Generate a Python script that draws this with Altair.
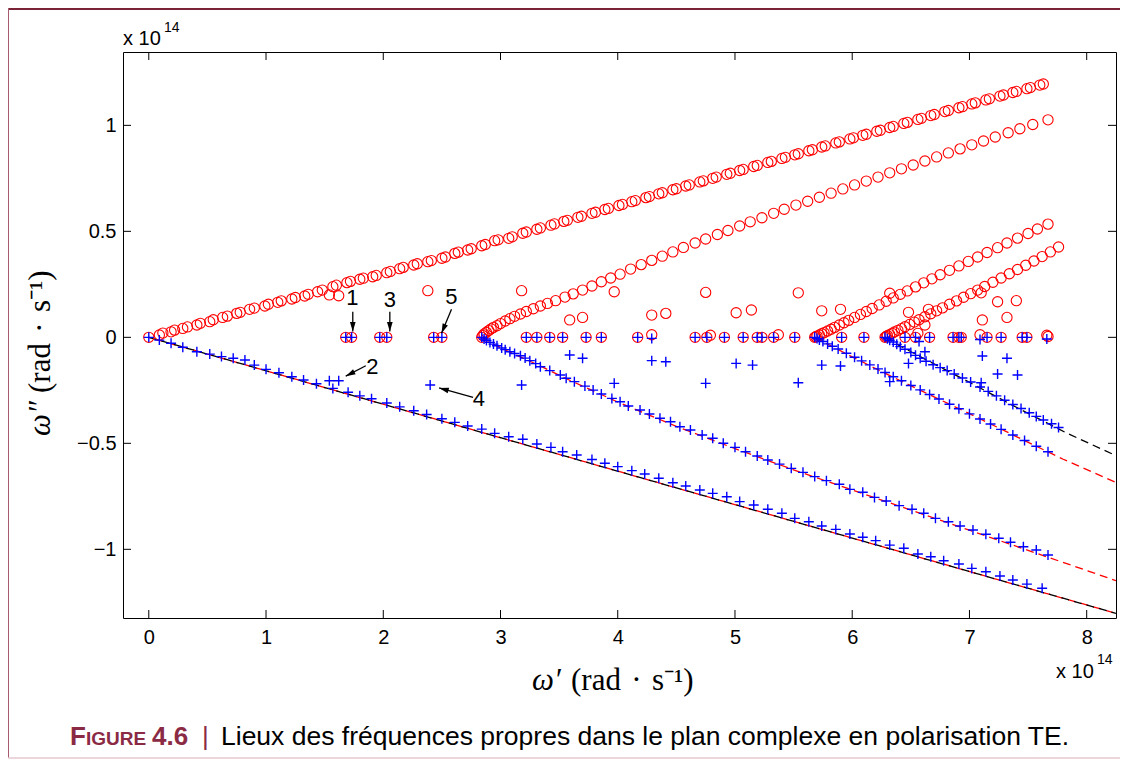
import math
import altair as alt
import pandas as pd

# ---------------- values (units of 1e14 rad/s) ----------------
# red circles, upper branch from the origin (two interleaved sequences)
redA_x = [0.00,0.09,0.19,0.29,0.41,0.52,0.63,0.75,0.86,0.99,1.10,1.22,1.33,1.44,1.57,1.69,1.80,1.91,2.03,2.14,
          2.26,2.38,2.50,2.61,2.72,2.84,2.95,3.07,3.19,3.31,3.43,3.54,3.66,3.78,3.89,4.01,4.12,4.24,4.35,4.47,
          4.58,4.70,4.81,4.93,5.04,5.16,5.28,5.40,5.51,5.63,5.74,5.86,5.98,6.09,6.21,6.32,6.44,6.56,6.67,6.79,
          6.91,7.02,7.14,7.26,7.37,7.49,7.60]
redA_y = [0.000,0.011,0.026,0.042,0.058,0.074,0.094,0.113,0.132,0.148,0.165,0.181,0.195,0.215,0.239,0.258,0.274,0.286,0.305,0.324,
          0.341,0.357,0.373,0.396,0.412,0.432,0.456,0.467,0.491,0.510,0.529,0.547,0.566,0.585,0.603,0.622,0.640,0.659,0.677,0.696,
          0.714,0.733,0.750,0.769,0.787,0.806,0.825,0.844,0.861,0.880,0.898,0.917,0.936,0.953,0.972,0.990,1.009,1.028,1.046,1.065,
          1.083,1.101,1.120,1.138,1.155,1.173,1.190]
redA2_x = [0.12,0.22,0.33,0.44,0.55,0.67,0.78,0.90,1.02,1.13,1.25,1.36,1.48,1.60,1.72,1.83,1.94,2.06,2.17,2.29,
           2.41,2.53,2.64,2.75,2.87,2.98,3.10,3.22,3.34,3.46,3.57,3.69,3.81,3.92,4.04,4.15,4.27,4.38,4.50,4.61,
           4.73,4.84,4.96,5.07,5.19,5.31,5.43,5.54,5.66,5.77,5.89,6.01,6.12,6.24,6.35,6.47,6.59,6.70,6.82,6.94,
           7.05,7.17,7.29,7.40,7.52,7.63]
redA2_y = [0.020,0.034,0.049,0.066,0.083,0.100,0.118,0.138,0.156,0.172,0.188,0.203,0.223,0.246,0.264,0.279,0.292,0.311,0.330,0.347,
           0.362,0.379,0.402,0.418,0.438,0.460,0.474,0.497,0.516,0.535,0.552,0.571,0.590,0.608,0.627,0.645,0.664,0.682,0.701,0.719,
           0.738,0.756,0.774,0.792,0.811,0.830,0.849,0.866,0.885,0.903,0.922,0.941,0.958,0.977,0.995,1.014,1.033,1.051,1.070,1.088,
           1.106,1.125,1.143,1.160,1.178,1.195]
# red circles, branch from the cusp near 2.84
redB_x = [2.84,2.85,2.86,2.88,2.90,2.92,2.94,2.97,3.00,3.04,3.08,3.12,3.17,3.22,3.28,3.34,3.40,3.47,3.55,3.62,
          3.70,3.78,3.86,3.94,4.02,4.11,4.20,4.29,4.38,4.47,4.56,4.66,4.75,4.85,4.94,5.04,5.13,5.23,5.33,5.42,
          5.52,5.62,5.72,5.82,5.92,6.02,6.12,6.22,6.32,6.42,6.52,6.62,6.72,6.82,6.92,7.02,7.12,7.22,7.33,7.43,
          7.54,7.67]
redB_y = [0.000,0.008,0.016,0.024,0.032,0.040,0.047,0.055,0.065,0.077,0.088,0.099,0.110,0.122,0.135,0.148,0.160,0.173,0.190,0.205,
          0.223,0.242,0.262,0.280,0.298,0.322,0.343,0.363,0.383,0.403,0.424,0.445,0.464,0.485,0.504,0.525,0.545,0.564,0.585,0.604,
          0.624,0.642,0.661,0.680,0.700,0.719,0.737,0.756,0.776,0.795,0.813,0.832,0.851,0.870,0.889,0.908,0.926,0.945,0.965,0.984,
          1.004,1.026]
# red circles, branch from the cusp near 5.68
redC_x = [5.68,5.69,5.70,5.72,5.74,5.76,5.79,5.82,5.85,5.89,5.93,5.97,6.02,6.07,6.12,6.17,6.23,6.29,6.35,6.41,
          6.47,6.54,6.61,6.68,6.75,6.83,6.91,6.99,7.07,7.15,7.24,7.32,7.41,7.50,7.58,7.67]
redC_y = [0.000,0.003,0.006,0.011,0.017,0.022,0.030,0.038,0.047,0.058,0.069,0.080,0.094,0.108,0.122,0.136,0.153,0.170,0.186,0.203,
          0.219,0.238,0.257,0.276,0.295,0.316,0.337,0.358,0.379,0.400,0.423,0.445,0.468,0.490,0.511,0.534]
# red circles, branch from the cusp near 6.28
redD_x = [6.28,6.29,6.30,6.32,6.34,6.36,6.39,6.42,6.45,6.49,6.53,6.57,6.62,6.67,6.72,6.77,6.83,6.89,6.95,7.01,
          7.07,7.13,7.20,7.27,7.34,7.41,7.48,7.55,7.62,7.69,7.76]
redD_y = [0.000,0.004,0.008,0.013,0.019,0.025,0.033,0.041,0.050,0.061,0.072,0.083,0.097,0.111,0.125,0.139,0.156,0.172,0.189,0.206,
          0.223,0.240,0.260,0.280,0.300,0.320,0.340,0.360,0.381,0.403,0.426]

# blue pluses, lower branch from the origin
blueA_x = [0.00,0.09,0.19,0.29,0.41,0.52,0.62,0.72,0.82,0.90,1.00,1.11,1.22,1.32,1.43,1.57,1.70,1.80,1.90,2.03,
           2.14,2.26,2.37,2.50,2.61,2.72,2.84,2.95,3.07,3.19,3.31,3.43,3.53,3.65,3.78,3.89,4.00,4.12,4.23,4.35,
           4.47,4.58,4.70,4.81,4.93,5.04,5.16,5.28,5.40,5.51,5.63,5.74,5.86,5.98,6.09,6.20,6.32,6.44,6.56,6.67,
           6.78,6.91,7.02,7.14,7.26,7.37,7.49,7.62]
blueA_y = [0.000,-0.013,-0.028,-0.047,-0.068,-0.079,-0.091,-0.099,-0.107,-0.131,-0.151,-0.167,-0.186,-0.201,-0.219,-0.241,-0.259,-0.276,-0.290,-0.310,
           -0.328,-0.346,-0.364,-0.384,-0.401,-0.418,-0.433,-0.453,-0.469,-0.481,-0.503,-0.519,-0.540,-0.555,-0.576,-0.594,-0.610,-0.629,-0.645,-0.665,
           -0.686,-0.701,-0.720,-0.736,-0.752,-0.775,-0.791,-0.811,-0.830,-0.854,-0.870,-0.890,-0.906,-0.928,-0.943,-0.959,-0.980,-0.995,-1.022,-1.035,
           -1.054,-1.069,-1.090,-1.106,-1.126,-1.145,-1.164,-1.184]
# blue pluses, branch from the cusp near 2.84
blueB_x = [2.84,2.86,2.88,2.91,2.94,2.97,3.01,3.04,3.08,3.12,3.17,3.21,3.25,3.30,3.34,3.42,3.51,3.56,3.63,3.72,
           3.79,3.86,3.95,4.02,4.09,4.19,4.27,4.36,4.45,4.53,4.62,4.72,4.81,4.90,5.00,5.09,5.19,5.28,5.38,5.48,
           5.58,5.68,5.78,5.89,5.98,6.09,6.19,6.29,6.40,6.51,6.61,6.71,6.82,6.92,7.03,7.14,7.25,7.35,7.46,7.57,
           7.67]
blueB_y = [0.000,-0.008,-0.015,-0.024,-0.032,-0.040,-0.050,-0.058,-0.068,-0.076,-0.087,-0.098,-0.110,-0.124,-0.139,-0.157,-0.178,-0.193,-0.209,-0.230,
           -0.249,-0.267,-0.288,-0.304,-0.324,-0.343,-0.362,-0.382,-0.398,-0.422,-0.437,-0.461,-0.476,-0.500,-0.519,-0.540,-0.560,-0.579,-0.598,-0.618,
           -0.637,-0.657,-0.676,-0.693,-0.717,-0.731,-0.755,-0.772,-0.794,-0.811,-0.830,-0.854,-0.870,-0.890,-0.909,-0.929,-0.948,-0.967,-0.988,-1.003,
           -1.027]
# blue pluses, branch from the cusp near 5.68
blueC_x = [5.68,5.70,5.72,5.75,5.79,5.83,5.88,5.95,6.02,6.08,6.15,6.22,6.28,6.35,6.42,6.50,6.58,6.66,6.74,6.83,
           6.91,7.00,7.09,7.18,7.27,7.37,7.47,7.57,7.67]
blueC_y = [0.000,-0.006,-0.012,-0.020,-0.031,-0.042,-0.055,-0.075,-0.094,-0.111,-0.130,-0.149,-0.166,-0.186,-0.205,-0.227,-0.248,-0.270,-0.291,-0.316,
           -0.337,-0.361,-0.385,-0.409,-0.434,-0.461,-0.487,-0.514,-0.540]
# blue pluses, branch from the cusp near 6.28
blueD_x = [6.28,6.30,6.32,6.35,6.38,6.41,6.45,6.50,6.54,6.58,6.63,6.69,6.75,6.81,6.87,6.94,7.01,7.09,7.16,7.23,
           7.30,7.37,7.44,7.51,7.57,7.63,7.70,7.76]
blueD_y = [0.000,-0.007,-0.014,-0.022,-0.033,-0.044,-0.056,-0.072,-0.085,-0.099,-0.113,-0.129,-0.143,-0.157,-0.173,-0.192,-0.211,-0.234,-0.255,-0.276,
           -0.297,-0.317,-0.336,-0.356,-0.373,-0.390,-0.408,-0.425]

# modes lying on the real axis (circles with pluses)
axis_red_x = [1.68,1.73,1.97,2.03,2.43,2.50,3.22,3.31,3.42,3.53,3.73,3.86,4.17,4.29,4.66,4.76,4.79,4.91,5.07,5.19,
              5.23,5.33,5.37,5.51,5.91,6.10,6.45,6.54,6.66,6.86,6.91,6.93,7.09,7.15,7.27,7.45,7.49,7.66,7.67]
axis_red_y = [0,0,0,0,0,0,0,0,0,0,0,0,0,0.012,0,0,0.010,0,0,0,
              0,0,0.012,0,0,0,0,0,0,0,0,0,0.012,0,0,0,0,0.010,0.004]
axis_blue_x = [1.68,1.73,1.97,2.03,2.43,2.50,3.22,3.31,3.42,3.53,3.73,3.86,4.17,4.29,4.66,4.76,4.91,5.07,5.19,5.23,
               5.33,5.51,5.91,6.10,6.45,6.54,6.66,6.86,6.91,6.93,7.09,7.15,7.27,7.45,7.49,7.66]
axis_blue_y = [0,0,0,0,0,0,0,0,0,0,0,0,0,-0.005,0,0,0,0,0,0,
               0,0,0,0,0,0,0,0,0,0,-0.010,0,0,0,0,-0.008]

# isolated modes off the branches
red_off_x = [1.54,1.62,2.38,3.18,3.97,3.59,3.70,4.29,4.41,4.75,5.01,5.14,5.54,5.74,5.90,6.32,6.48,6.65,6.62,6.56,
             7.10,7.24,7.40,7.32,7.11]
red_off_y = [0.200,0.196,0.220,0.220,0.215,0.082,0.094,0.105,0.113,0.212,0.116,0.129,0.210,0.125,0.132,0.208,0.118,0.132,0.058,0.019,
             0.210,0.168,0.173,0.094,0.082]
blue_off_x = [1.54,1.62,2.40,3.18,3.97,3.59,3.70,4.29,4.41,4.75,5.01,5.15,5.54,5.74,5.90,6.32,6.48,6.62,6.57,7.10,
              7.24,7.32,7.41,7.11]
blue_off_y = [-0.205,-0.205,-0.225,-0.225,-0.217,-0.083,-0.099,-0.110,-0.115,-0.217,-0.123,-0.131,-0.214,-0.131,-0.135,-0.209,-0.123,-0.068,-0.020,-0.214,
              -0.173,-0.099,-0.178,-0.088]

# dashed reference curves
dash0_x = [0.0, 8.25]
dash0_y = [0.0, -1.302]
dashB_x = [2.84,2.95,3.10,3.30,3.60,4.00,4.50,5.00,5.50,6.00,6.50,7.00,7.50,8.00,8.25]
dashB_y = [0.0,-0.035,-0.075,-0.125,-0.205,-0.305,-0.420,-0.525,-0.625,-0.720,-0.815,-0.910,-1.005,-1.100,-1.148]
dashC_x = [5.68,5.80,6.00,6.30,6.60,7.00,7.40,7.80,8.25]
dashC_y = [0.0,-0.035,-0.092,-0.175,-0.255,-0.360,-0.468,-0.575,-0.685]
dashD_x = [6.28,6.40,6.60,7.00,7.40,7.83,8.25]
dashD_y = [0.0,-0.038,-0.097,-0.212,-0.330,-0.452,-0.558]

# numbered annotations and their arrows
ann_text = ["1", "3", "5", "2", "4"]
ann_x = [1.737, 2.056, 2.582, 1.908, 2.815]
ann_y = [0.185, 0.176, 0.192, -0.139, -0.289]
arr_x1 = [1.740, 2.056, 2.582, 1.851, 2.766]
arr_y1 = [0.121, 0.121, 0.132, -0.134, -0.283]
arr_x2 = [1.740, 2.056, 2.497, 1.680, 2.476]
arr_y2 = [0.027, 0.027, 0.019, -0.183, -0.239]

x_ticks = [0, 1, 2, 3, 4, 5, 6, 7, 8]
y_ticks = [-1, -0.5, 0, 0.5, 1]

caption_head = ["F", "IGURE", "4.6", "|"]
caption_body = "Lieux des fréquences propres dans le plan complexe en polarisation TE."

# ---------------- layout ----------------
W, H = 993, 566
X_DOM = [-0.22, 8.25]
Y_DOM = [-1.324, 1.346]
xsc = alt.Scale(domain=X_DOM, nice=False, zero=False)
ysc = alt.Scale(domain=Y_DOM, nice=False, zero=False)
xaxis = alt.Axis(values=x_ticks, format="d", ticks=False, tickSize=0, domain=False, grid=False,
                 labelFont="Liberation Sans", labelFontSize=20, labelColor="black",
                 labelPadding=9, title=None, labelFlush=False)
yaxis = alt.Axis(values=y_ticks, format=".1~f", ticks=False, tickSize=0, domain=False, grid=False,
                 labelFont="Liberation Sans", labelFontSize=20, labelColor="black",
                 labelPadding=7, title=None, labelFlush=False)


def X(f="x"):
    return alt.X(f"{f}:Q", scale=xsc, axis=xaxis)


def Y(f="y"):
    return alt.Y(f"{f}:Q", scale=ysc, axis=yaxis)


def pts(xv, yv):
    n = min(len(xv), len(yv))
    return pd.DataFrame({"x": list(xv[:n]), "y": list(yv[:n])})


red_df = pd.concat([pts(redA_x, redA_y), pts(redA2_x, redA2_y), pts(redB_x, redB_y),
                    pts(redC_x, redC_y), pts(redD_x, redD_y), pts(axis_red_x, axis_red_y),
                    pts(red_off_x, red_off_y)], ignore_index=True)
blue_df = pd.concat([pts(blueA_x, blueA_y), pts(blueB_x, blueB_y), pts(blueC_x, blueC_y),
                     pts(blueD_x, blueD_y), pts(axis_blue_x, axis_blue_y),
                     pts(blue_off_x, blue_off_y)], ignore_index=True)


def curves(items):
    frames = []
    for name, xv, yv in items:
        d = pts(xv, yv)
        d["id"] = name
        d["o"] = range(len(d))
        frames.append(d)
    return pd.concat(frames, ignore_index=True)


red_curves = curves([("B", dashB_x, dashB_y), ("C", dashC_x, dashC_y)])
red_origin = curves([("O", dash0_x, dash0_y)])
black_curves = curves([("O", dash0_x, dash0_y), ("D", dashD_x, dashD_y)])

kx = W / (X_DOM[1] - X_DOM[0])
ky = H / (Y_DOM[1] - Y_DOM[0])
angles = []
for a, b, c, d in zip(arr_x1, arr_y1, arr_x2, arr_y2):
    dx = (c - a) * kx
    dy = -(d - b) * ky
    angles.append(math.degrees(math.atan2(dx, -dy)) % 360)
arr_df = pd.DataFrame({"x1": arr_x1, "y1": arr_y1, "x2": arr_x2, "y2": arr_y2, "ang": angles})
ann_df = pd.DataFrame({"x": ann_x, "y": ann_y, "t": ann_text})

layers = []
layers.append(alt.Chart(red_origin).mark_line(color="#ff0000", strokeWidth=1.3, strokeDash=[8, 5],
                                              strokeDashOffset=6, clip=True)
              .encode(x=X(), y=Y(), detail="id:N", order="o:Q"))
layers.append(alt.Chart(red_curves).mark_line(color="#ff0000", strokeWidth=1.3, strokeDash=[8, 5], clip=True)
              .encode(x=X(), y=Y(), detail="id:N", order="o:Q"))
layers.append(alt.Chart(black_curves).mark_line(color="black", strokeWidth=1.3, strokeDash=[8, 5], clip=True)
              .encode(x=X(), y=Y(), detail="id:N", order="o:Q"))
layers.append(alt.Chart(red_df).mark_point(shape="circle", filled=False, color="#ff0000", size=105,
                                           strokeWidth=1.1, opacity=1)
              .encode(x=X(), y=Y()))
layers.append(alt.Chart(blue_df).mark_point(shape="M-1,0L1,0M0,-1L0,1", filled=False, color="#0000ff",
                                            size=100, strokeWidth=1.4, opacity=1)
              .encode(x=X(), y=Y()))
layers.append(alt.Chart(arr_df).mark_rule(color="black", strokeWidth=1.3)
              .encode(x=X("x1"), y=Y("y1"), x2="x2:Q", y2="y2:Q"))
layers.append(alt.Chart(arr_df).mark_point(shape="M0,0L0.5,1.7L-0.5,1.7Z", filled=True, color="black",
                                           size=130, opacity=1, strokeWidth=0)
              .encode(x=X("x2"), y=Y("y2"), angle=alt.Angle("ang:Q", scale=None)))
layers.append(alt.Chart(ann_df).mark_text(font="Liberation Sans", fontSize=22, color="black",
                                          align="center", baseline="middle")
              .encode(x=X(), y=Y(), text="t:N"))

# inward ticks on all four sides
xt_df = pd.DataFrame({"x": x_ticks})
yt_df = pd.DataFrame({"y": y_ticks})
layers.append(alt.Chart(xt_df).mark_rule(color="black", strokeWidth=1)
              .encode(x=X(), y=alt.value(H), y2=alt.value(H - 8)))
layers.append(alt.Chart(xt_df).mark_rule(color="black", strokeWidth=1)
              .encode(x=X(), y=alt.value(0), y2=alt.value(8)))
layers.append(alt.Chart(yt_df).mark_rule(color="black", strokeWidth=1)
              .encode(y=Y(), x=alt.value(0), x2=alt.value(8)))
layers.append(alt.Chart(yt_df).mark_rule(color="black", strokeWidth=1)
              .encode(y=Y(), x=alt.value(W), x2=alt.value(W - 8)))


def label(text, x, y, **kw):
    return alt.Chart(pd.DataFrame({"t": [text]})).mark_text(**kw).encode(
        text="t:N", x=alt.value(x), y=alt.value(y))


sans = "Liberation Sans"
serif = "Liberation Serif"
unit = "(rad\u2004·\u2004s⁻¹)"
# exponent labels
layers.append(label("x 10", 0, -13, font=sans, fontSize=20, align="left", baseline="middle"))
layers.append(label("14", 41, -24, font=sans, fontSize=14, align="left", baseline="middle"))
layers.append(label("x 10", 933, 620, font=sans, fontSize=20, align="left", baseline="middle"))
layers.append(label("14", 974, 608, font=sans, fontSize=14, align="left", baseline="middle"))
# axis titles
layers.append(label("ω′", 409, 638, font=serif, fontSize=31, fontStyle="italic", align="left",
                    baseline="alphabetic"))
layers.append(label(unit, 448, 638, font=serif, fontSize=31, align="left", baseline="alphabetic"))
layers.append(label("ω″", -73, 384, font=serif, fontSize=31, fontStyle="italic", align="left",
                    baseline="alphabetic", angle=270))
layers.append(label(unit, -73, 341, font=serif, fontSize=31, align="left", baseline="alphabetic",
                    angle=270))
# caption
cap_color = "#8a2a44"
layers.append(label(caption_head[0], -53, 693, font=sans, fontSize=26, fontWeight="bold", color=cap_color,
                    align="left", baseline="alphabetic"))
layers.append(label(caption_head[1], -37, 693, font=sans, fontSize=19, fontWeight="bold", color=cap_color,
                    align="left", baseline="alphabetic"))
layers.append(label(caption_head[2], 29, 693, font=sans, fontSize=26, fontWeight="bold", color=cap_color,
                    align="left", baseline="alphabetic"))
layers.append(label(caption_head[3], 79, 693, font=sans, fontSize=26, color=cap_color,
                    align="left", baseline="alphabetic"))
layers.append(label(caption_body, 98, 693, font=sans, fontSize=26.5, color="black",
                    align="left", baseline="alphabetic"))

# page frame
one = pd.DataFrame({"k": [0]})
layers.append(alt.Chart(one).mark_rule(color="#7b2337", strokeWidth=2)
              .encode(x=alt.value(-115), x2=alt.value(W + 4), y=alt.value(-43), y2=alt.value(-43)))
layers.append(alt.Chart(one).mark_rule(color="#a85a6e", strokeWidth=1)
              .encode(x=alt.value(-114.5), x2=alt.value(-114.5), y=alt.value(-44), y2=alt.value(706)))
layers.append(alt.Chart(one).mark_rule(color="#e6c8d1", strokeWidth=1.5)
              .encode(x=alt.value(-115), x2=alt.value(W + 4), y=alt.value(706), y2=alt.value(706)))

chart = alt.layer(*layers).properties(
    width=W, height=H,
    padding={"left": 115, "top": 44, "right": 4, "bottom": 141},
    autosize=alt.AutoSizeParams(type="none"),
    background="white",
).configure_view(stroke="black", strokeWidth=1)

chart.save("out.html", embed_options={"renderer": "svg", "actions": False})
